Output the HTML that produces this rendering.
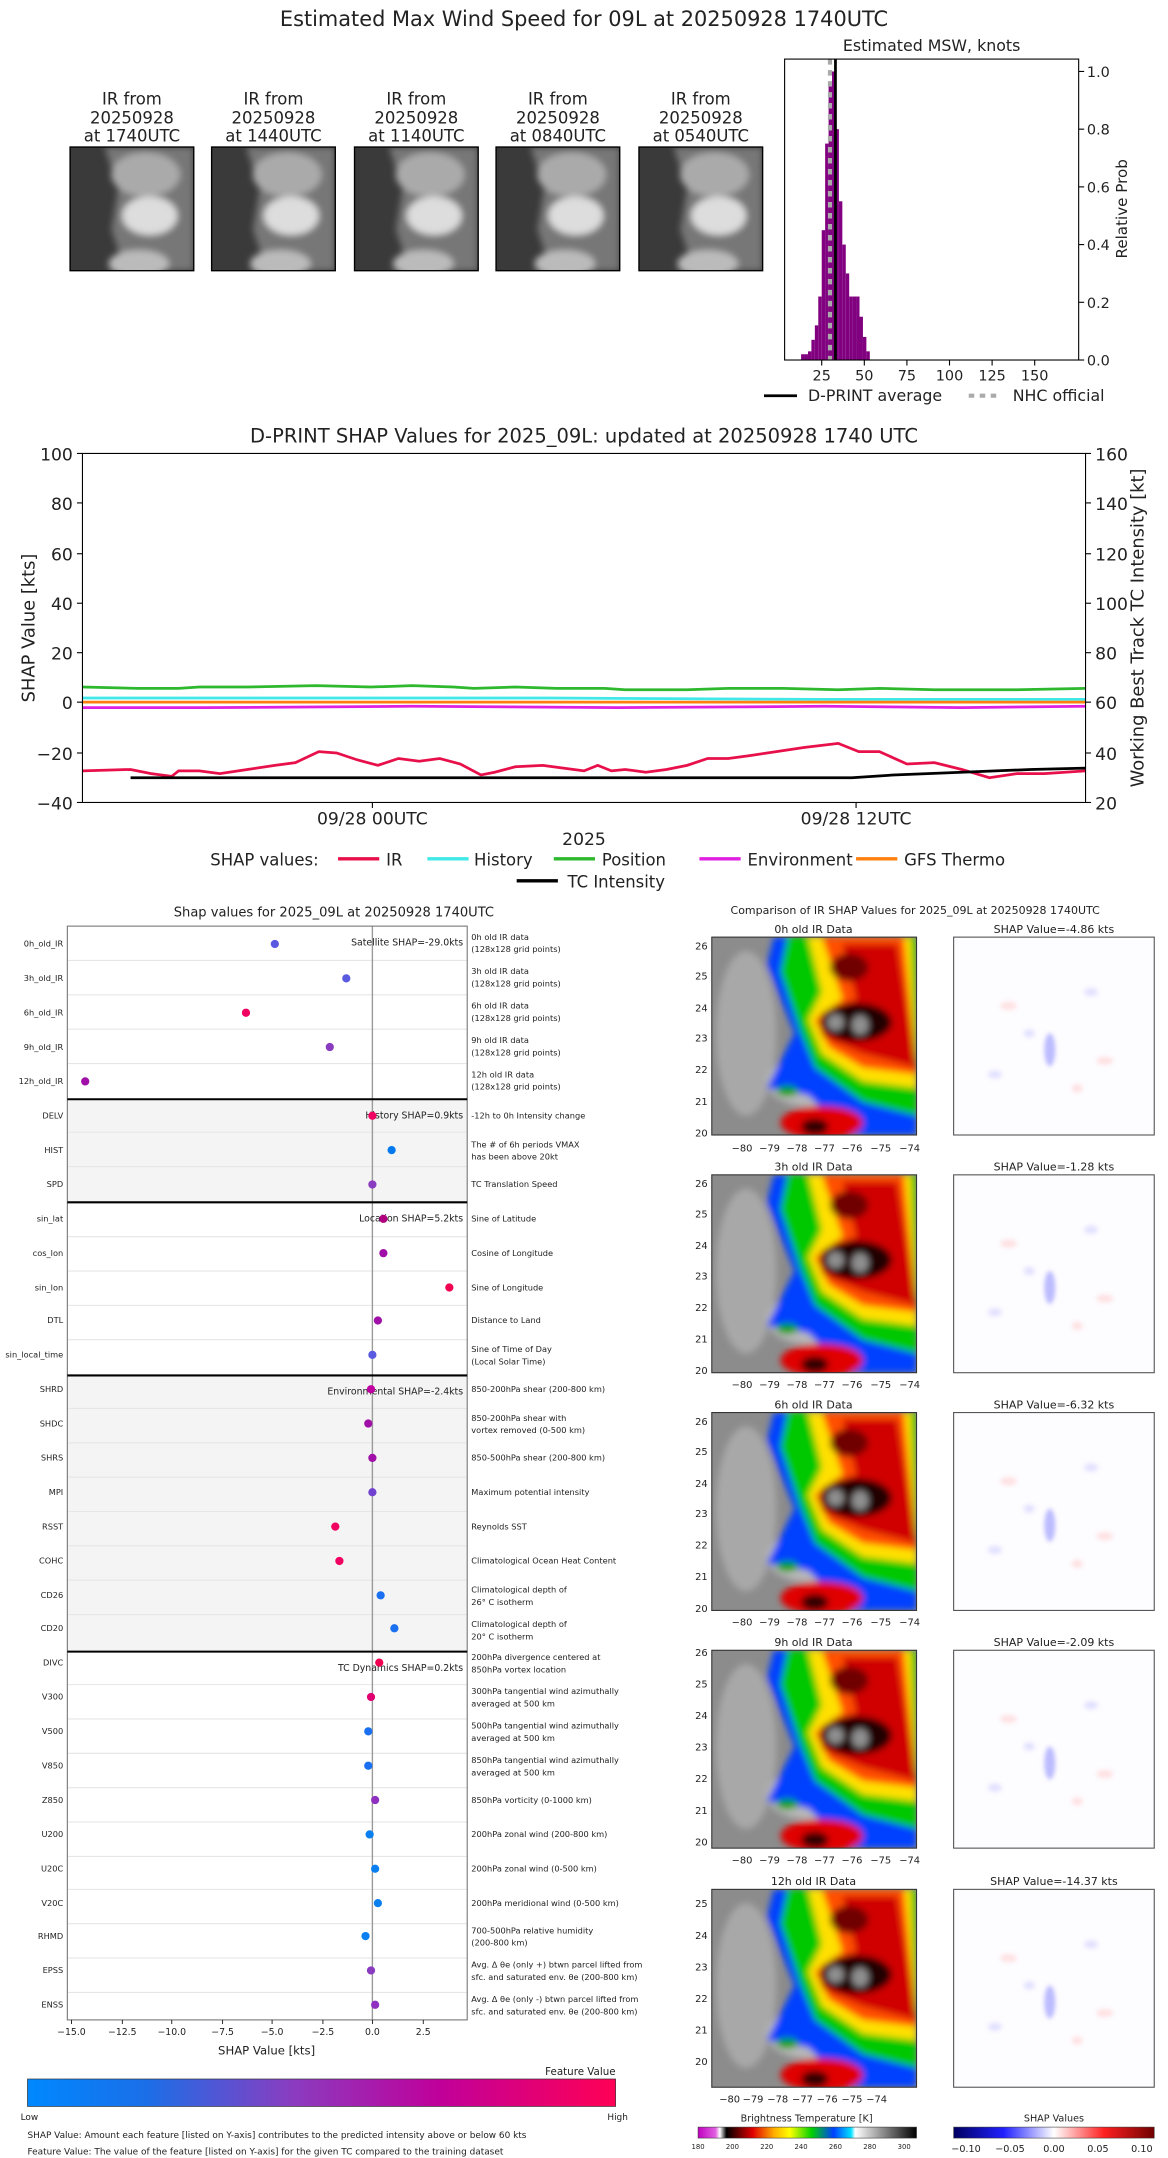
<!DOCTYPE html>
<html><head><meta charset="utf-8"><style>
html,body{margin:0;padding:0;background:#fff}
svg{display:block}
text{font-family:"DejaVu Sans","Liberation Sans",sans-serif;fill:#222}
</style></head><body>
<svg width="1168" height="2158" viewBox="0 0 850 1570.5" xmlns="http://www.w3.org/2000/svg">
<defs>
<filter id="bl" x="-20%" y="-20%" width="140%" height="140%"><feGaussianBlur stdDeviation="2.5"/></filter>
<filter id="bl2"><feGaussianBlur stdDeviation="1.5"/></filter>
<linearGradient id="fv" x1="0" x2="1"><stop offset="0" stop-color="#0088ff"/><stop offset="0.2" stop-color="#1a6fe8"/><stop offset="0.45" stop-color="#8a3cc0"/><stop offset="0.7" stop-color="#c0009a"/><stop offset="1" stop-color="#ff0055"/></linearGradient>
<linearGradient id="bt" x1="0" x2="1"><stop offset="0" stop-color="#c000c0"/><stop offset="0.08" stop-color="#e060e0"/><stop offset="0.1" stop-color="#fff"/><stop offset="0.13" stop-color="#000"/><stop offset="0.25" stop-color="#e00000"/><stop offset="0.35" stop-color="#ffb000"/><stop offset="0.42" stop-color="#ffff00"/><stop offset="0.52" stop-color="#00d000"/><stop offset="0.62" stop-color="#0040ff"/><stop offset="0.7" stop-color="#00e0ff"/><stop offset="0.72" stop-color="#fff"/><stop offset="1" stop-color="#000"/></linearGradient>
<linearGradient id="sv" x1="0" x2="1"><stop offset="0" stop-color="#000060"/><stop offset="0.25" stop-color="#2020ff"/><stop offset="0.5" stop-color="#fff"/><stop offset="0.75" stop-color="#ff2020"/><stop offset="1" stop-color="#700000"/></linearGradient>
<clipPath id="irc"><rect x="0" y="0" width="149" height="144"/></clipPath>
<clipPath id="thc"><rect x="0" y="0" width="90" height="90"/></clipPath>
<g id="ir">
 <g clip-path="url(#irc)">
 <rect width="149" height="144" fill="#8c8c8c"/>
 <g filter="url(#bl)">
  <ellipse cx="25" cy="70" rx="22" ry="60" fill="#a8a8a8"/>
  <ellipse cx="70" cy="105" rx="30" ry="18" fill="#b8b8b8"/>
  <path d="M45,0 L149,0 L149,144 L100,144 L70,115 L40,110 L60,70 L40,20 Z" fill="#0040ff"/>
  <path d="M55,0 L149,0 L149,130 L110,120 L75,95 L65,70 L50,25 Z" fill="#00c800"/>
  <path d="M70,0 L145,0 L149,110 L110,105 L80,85 L70,60 L80,40 Z" fill="#ffe000"/>
  <path d="M80,0 L140,0 L149,100 L110,95 L85,80 L75,60 L95,45 Z" fill="#ff5000"/>
  <path d="M95,5 L135,5 L149,95 L110,85 L80,72 L80,55 L105,45 Z" fill="#d00000"/>
  <ellipse cx="105" cy="62" rx="26" ry="14" fill="#200000"/>
  <ellipse cx="100" cy="22" rx="14" ry="10" fill="#700000"/>
  <ellipse cx="90" cy="62" rx="6" ry="6" fill="#909090"/>
  <ellipse cx="108" cy="64" rx="6" ry="7" fill="#909090"/>
  <ellipse cx="80" cy="135" rx="30" ry="12" fill="#e00000"/>
  <ellipse cx="75" cy="138" rx="10" ry="6" fill="#300000"/>
  <ellipse cx="55" cy="112" rx="8" ry="4" fill="#00a000"/>
 </g>
 </g>
 <rect width="149" height="144" fill="none" stroke="#333" stroke-width="0.8"/>
</g>
<g id="sh">
 <rect width="146" height="144" fill="#fdfcff" stroke="#555" stroke-width="0.8"/>
 <g filter="url(#bl2)" opacity="0.6">
  <ellipse cx="70" cy="82" rx="4" ry="12" fill="#9090ff"/>
  <ellipse cx="40" cy="50" rx="6" ry="3" fill="#ffd0d0"/>
  <ellipse cx="110" cy="90" rx="6" ry="3" fill="#ffd0d0"/>
  <ellipse cx="30" cy="100" rx="5" ry="3" fill="#d0d0ff"/>
  <ellipse cx="100" cy="40" rx="5" ry="3" fill="#d0d0ff"/>
  <ellipse cx="55" cy="70" rx="4" ry="3" fill="#d0d0ff"/>
  <ellipse cx="90" cy="110" rx="4" ry="3" fill="#ffd0d0"/>
 </g>
</g>
<g id="th">
 <g clip-path="url(#thc)">
 <rect width="90" height="90" fill="#3a3a3a"/>
 <g filter="url(#bl)">
  <path d="M25,0 L90,0 L90,90 L40,90 L30,60 L35,30 Z" fill="#777"/>
  <ellipse cx="55" cy="20" rx="25" ry="16" fill="#aaa"/>
  <ellipse cx="58" cy="50" rx="20" ry="14" fill="#ddd"/>
  <ellipse cx="50" cy="85" rx="22" ry="10" fill="#bbb"/>
 </g>
 </g>
 <rect width="90" height="90" fill="none" stroke="#000" stroke-width="1"/>
</g>
</defs>

<text x="425" y="19" font-size="15.2" text-anchor="middle">Estimated Max Wind Speed for 09L at 20250928 1740UTC</text>

<g font-size="12" text-anchor="middle">
<text x="96" y="76">IR from</text><text x="96" y="90">20250928</text><text x="96" y="103">at 1740UTC</text>
<text x="199" y="76">IR from</text><text x="199" y="90">20250928</text><text x="199" y="103">at 1440UTC</text>
<text x="303" y="76">IR from</text><text x="303" y="90">20250928</text><text x="303" y="103">at 1140UTC</text>
<text x="406" y="76">IR from</text><text x="406" y="90">20250928</text><text x="406" y="103">at 0840UTC</text>
<text x="510" y="76">IR from</text><text x="510" y="90">20250928</text><text x="510" y="103">at 0540UTC</text>
</g>
<use href="#th" x="51" y="107"/><use href="#th" x="154" y="107"/><use href="#th" x="258" y="107"/><use href="#th" x="361" y="107"/><use href="#th" x="465" y="107"/>

<text x="678" y="37" font-size="11.5" text-anchor="middle">Estimated MSW, knots</text>
<g fill="#800080">
<rect x="583" y="257.8" width="2.5" height="4.2"/><rect x="585.5" y="257.8" width="2.5" height="4.2"/>
<rect x="588" y="255.7" width="2.5" height="6.3"/><rect x="590.5" y="247.3" width="2.5" height="14.7"/>
<rect x="593" y="236.8" width="2.5" height="25.2"/><rect x="595.5" y="215.8" width="2.5" height="46.2"/>
<rect x="598" y="167.5" width="2.5" height="94.5"/><rect x="600.5" y="104.5" width="2.5" height="157.5"/>
<rect x="603" y="62.5" width="2.5" height="199.5"/><rect x="605.5" y="52" width="2.5" height="210"/>
<rect x="608" y="94" width="2.5" height="168"/><rect x="610.5" y="146.5" width="2.5" height="115.5"/>
<rect x="613" y="178" width="2.5" height="84"/><rect x="615.5" y="199" width="2.5" height="63"/>
<rect x="618" y="215.8" width="2.5" height="46.2"/><rect x="620.5" y="215.8" width="2.5" height="46.2"/>
<rect x="623" y="215.8" width="2.5" height="46.2"/><rect x="625.5" y="230.5" width="2.5" height="31.5"/>
<rect x="628" y="245.2" width="2.5" height="16.8"/><rect x="630.5" y="255.7" width="2.5" height="6.3"/>
</g>
<line x1="608" y1="43" x2="608" y2="262" stroke="#000" stroke-width="2"/>
<line x1="604" y1="43" x2="604" y2="262" stroke="#aaa" stroke-width="3" stroke-dasharray="4,4"/>
<rect x="571" y="43" width="214" height="219" fill="none" stroke="#000" stroke-width="0.8"/>
<g stroke="#000" stroke-width="0.8">
<line x1="598" y1="262" x2="598" y2="266"/><line x1="629" y1="262" x2="629" y2="266"/><line x1="660" y1="262" x2="660" y2="266"/><line x1="691" y1="262" x2="691" y2="266"/><line x1="722" y1="262" x2="722" y2="266"/><line x1="753" y1="262" x2="753" y2="266"/>
<line x1="785" y1="262" x2="789" y2="262"/><line x1="785" y1="220" x2="789" y2="220"/><line x1="785" y1="178" x2="789" y2="178"/><line x1="785" y1="136" x2="789" y2="136"/><line x1="785" y1="94" x2="789" y2="94"/><line x1="785" y1="52" x2="789" y2="52"/>
</g>
<g font-size="10.5" text-anchor="middle"><text x="598" y="277">25</text><text x="629" y="277">50</text><text x="660" y="277">75</text><text x="691" y="277">100</text><text x="722" y="277">125</text><text x="753" y="277">150</text></g>
<g font-size="10.5"><text x="791" y="266">0.0</text><text x="791" y="224">0.2</text><text x="791" y="182">0.4</text><text x="791" y="140">0.6</text><text x="791" y="98">0.8</text><text x="791" y="56">1.0</text></g>
<text transform="translate(820,152) rotate(-90)" font-size="11" text-anchor="middle">Relative Prob</text>
<line x1="556" y1="288" x2="580" y2="288" stroke="#000" stroke-width="2"/>
<text x="588" y="292" font-size="11.5">D-PRINT average</text>
<line x1="705" y1="288" x2="729" y2="288" stroke="#aaa" stroke-width="3" stroke-dasharray="4,4"/>
<text x="737" y="292" font-size="11.5">NHC official</text>

<text x="425" y="322" font-size="14.2" text-anchor="middle">D-PRINT SHAP Values for 2025_09L: updated at 20250928 1740 UTC</text>
<g fill="none" stroke-width="2">
<polyline stroke="#2db82d" points="60,500 100,501 130,501 145,500 180,500 230,499 270,500 300,499 330,500 345,501 375,500 405,501 440,501 455,502 500,502 530,501 570,501 610,502 640,501 680,502 740,502 790,501"/>
<polyline stroke="#40e8e8" points="60,508 200,508 400,508 600,509 790,509"/>
<polyline stroke="#ff7f0e" points="60,511 300,511 500,511 790,511"/>
<polyline stroke="#e020e0" points="60,515 150,515 300,514 450,515 600,514 700,515 790,514"/>
<polyline stroke="#e8104a" points="60,561 95,560 110,563 125,565 130,561 145,561 160,563 180,560 200,557 215,555 232,547 245,548 260,553 275,557 290,552 305,554 320,552 335,556 350,564 360,562 375,558 395,557 410,559 425,561 435,557 445,561 455,560 470,562 485,560 500,557 515,552 530,552 545,550 565,547 585,544 610,541 625,547 640,547 660,556 680,555 700,560 720,566 740,563 760,563 790,561"/>
<polyline stroke="#000" points="95,566 620,566 650,564 700,562 750,560 790,559"/>
</g>
<rect x="60" y="330" width="730" height="254" fill="none" stroke="#000" stroke-width="0.8"/>
<g stroke="#000" stroke-width="0.8">
<line x1="56" y1="330" x2="60" y2="330"/><line x1="56" y1="366" x2="60" y2="366"/><line x1="56" y1="403" x2="60" y2="403"/><line x1="56" y1="439" x2="60" y2="439"/><line x1="56" y1="475" x2="60" y2="475"/><line x1="56" y1="511" x2="60" y2="511"/><line x1="56" y1="548" x2="60" y2="548"/><line x1="56" y1="584" x2="60" y2="584"/>
<line x1="790" y1="330" x2="794" y2="330"/><line x1="790" y1="366" x2="794" y2="366"/><line x1="790" y1="403" x2="794" y2="403"/><line x1="790" y1="439" x2="794" y2="439"/><line x1="790" y1="475" x2="794" y2="475"/><line x1="790" y1="511" x2="794" y2="511"/><line x1="790" y1="548" x2="794" y2="548"/><line x1="790" y1="584" x2="794" y2="584"/>
<line x1="271" y1="584" x2="271" y2="588"/><line x1="623" y1="584" x2="623" y2="588"/>
</g>
<g font-size="12.5" text-anchor="end"><text x="53" y="335">100</text><text x="53" y="371">80</text><text x="53" y="408">60</text><text x="53" y="444">40</text><text x="53" y="480">20</text><text x="53" y="516">0</text><text x="53" y="553">−20</text><text x="53" y="589">−40</text></g>
<g font-size="12.5"><text x="797" y="335">160</text><text x="797" y="371">140</text><text x="797" y="408">120</text><text x="797" y="444">100</text><text x="797" y="480">80</text><text x="797" y="516">60</text><text x="797" y="553">40</text><text x="797" y="589">20</text></g>
<g font-size="12.5" text-anchor="middle"><text x="271" y="600">09/28 00UTC</text><text x="623" y="600">09/28 12UTC</text><text x="425" y="615">2025</text></g>
<text transform="translate(25,457) rotate(-90)" font-size="13" text-anchor="middle">SHAP Value [kts]</text>
<text transform="translate(832,457) rotate(-90)" font-size="13" text-anchor="middle">Working Best Track TC Intensity [kt]</text>
<g font-size="12">
<text x="153" y="630">SHAP values:</text>
<line x1="246" y1="625" x2="276" y2="625" stroke="#e8104a" stroke-width="2.5"/><text x="281" y="630">IR</text>
<line x1="311" y1="625" x2="341" y2="625" stroke="#40e8e8" stroke-width="2.5"/><text x="345" y="630">History</text>
<line x1="403" y1="625" x2="433" y2="625" stroke="#2db82d" stroke-width="2.5"/><text x="438" y="630">Position</text>
<line x1="509" y1="625" x2="539" y2="625" stroke="#e020e0" stroke-width="2.5"/><text x="544" y="630">Environment</text>
<line x1="623" y1="625" x2="653" y2="625" stroke="#ff7f0e" stroke-width="2.5"/><text x="658" y="630">GFS Thermo</text>
<line x1="376" y1="641" x2="406" y2="641" stroke="#000" stroke-width="2.5"/><text x="413" y="646">TC Intensity</text>
</g>

<text x="243" y="667" font-size="9.5" text-anchor="middle">Shap values for 2025_09L at 20250928 1740UTC</text>
<rect x="49" y="800" width="291" height="75" fill="#f4f4f4"/>
<rect x="49" y="1001" width="291" height="201" fill="#f4f4f4"/>
<g stroke="#e6e6e6" stroke-width="0.8">
<line x1="49" x2="340" y1="699" y2="699"/><line x1="49" x2="340" y1="724" y2="724"/><line x1="49" x2="340" y1="749" y2="749"/><line x1="49" x2="340" y1="774" y2="774"/>
<line x1="49" x2="340" y1="824" y2="824"/><line x1="49" x2="340" y1="849" y2="849"/>
<line x1="49" x2="340" y1="900" y2="900"/><line x1="49" x2="340" y1="925" y2="925"/><line x1="49" x2="340" y1="950" y2="950"/><line x1="49" x2="340" y1="975" y2="975"/>
<line x1="49" x2="340" y1="1025" y2="1025"/><line x1="49" x2="340" y1="1050" y2="1050"/><line x1="49" x2="340" y1="1075" y2="1075"/><line x1="49" x2="340" y1="1100" y2="1100"/><line x1="49" x2="340" y1="1125" y2="1125"/><line x1="49" x2="340" y1="1150" y2="1150"/><line x1="49" x2="340" y1="1175" y2="1175"/>
<line x1="49" x2="340" y1="1226" y2="1226"/><line x1="49" x2="340" y1="1251" y2="1251"/><line x1="49" x2="340" y1="1276" y2="1276"/><line x1="49" x2="340" y1="1301" y2="1301"/><line x1="49" x2="340" y1="1326" y2="1326"/><line x1="49" x2="340" y1="1351" y2="1351"/><line x1="49" x2="340" y1="1375" y2="1375"/><line x1="49" x2="340" y1="1400" y2="1400"/><line x1="49" x2="340" y1="1425" y2="1425"/><line x1="49" x2="340" y1="1450" y2="1450"/>
</g>
<line x1="271" y1="674" x2="271" y2="1470" stroke="#999" stroke-width="1"/>
<rect x="49" y="674" width="291" height="796" fill="none" stroke="#777" stroke-width="0.8"/>
<g stroke="#000" stroke-width="1.5"><line x1="49" x2="340" y1="800" y2="800"/><line x1="49" x2="340" y1="875" y2="875"/><line x1="49" x2="340" y1="1001" y2="1001"/><line x1="49" x2="340" y1="1202" y2="1202"/></g>
<g font-size="6.8" text-anchor="end">
<text x="337" y="688">Satellite SHAP=-29.0kts</text><text x="337" y="814">History SHAP=0.9kts</text><text x="337" y="889">Location SHAP=5.2kts</text><text x="337" y="1015">Environmental SHAP=-2.4kts</text><text x="337" y="1216">TC Dynamics SHAP=0.2kts</text>
</g>
<g font-size="6" text-anchor="end">
<text x="46" y="689">0h_old_IR</text><text x="46" y="714">3h_old_IR</text><text x="46" y="739">6h_old_IR</text><text x="46" y="764">9h_old_IR</text><text x="46" y="789">12h_old_IR</text>
<text x="46" y="814">DELV</text><text x="46" y="839">HIST</text><text x="46" y="864">SPD</text>
<text x="46" y="889">sin_lat</text><text x="46" y="914">cos_lon</text><text x="46" y="939">sin_lon</text><text x="46" y="963">DTL</text><text x="46" y="988">sin_local_time</text>
<text x="46" y="1013">SHRD</text><text x="46" y="1038">SHDC</text><text x="46" y="1063">SHRS</text><text x="46" y="1088">MPI</text><text x="46" y="1113">RSST</text><text x="46" y="1138">COHC</text><text x="46" y="1163">CD26</text><text x="46" y="1187">CD20</text>
<text x="46" y="1212">DIVC</text><text x="46" y="1237">V300</text><text x="46" y="1262">V500</text><text x="46" y="1287">V850</text><text x="46" y="1312">Z850</text><text x="46" y="1337">U200</text><text x="46" y="1362">U20C</text><text x="46" y="1387">V20C</text><text x="46" y="1411">RHMD</text><text x="46" y="1436">EPSS</text><text x="46" y="1461">ENSS</text>
</g>
<g font-size="6">
<text x="343" y="684">0h old IR data</text><text x="343" y="693">(128x128 grid points)</text>
<text x="343" y="709">3h old IR data</text><text x="343" y="718">(128x128 grid points)</text>
<text x="343" y="734">6h old IR data</text><text x="343" y="743">(128x128 grid points)</text>
<text x="343" y="759">9h old IR data</text><text x="343" y="768">(128x128 grid points)</text>
<text x="343" y="784">12h old IR data</text><text x="343" y="793">(128x128 grid points)</text>
<text x="343" y="814">-12h to 0h Intensity change</text>
<text x="343" y="835">The # of 6h periods VMAX</text><text x="343" y="844">has been above 20kt</text>
<text x="343" y="864">TC Translation Speed</text>
<text x="343" y="889">Sine of Latitude</text><text x="343" y="914">Cosine of Longitude</text><text x="343" y="939">Sine of Longitude</text><text x="343" y="963">Distance to Land</text>
<text x="343" y="984">Sine of Time of Day</text><text x="343" y="993">(Local Solar Time)</text>
<text x="343" y="1013">850-200hPa shear (200-800 km)</text>
<text x="343" y="1034">850-200hPa shear with</text><text x="343" y="1043">vortex removed (0-500 km)</text>
<text x="343" y="1063">850-500hPa shear (200-800 km)</text><text x="343" y="1088">Maximum potential intensity</text><text x="343" y="1113">Reynolds SST</text><text x="343" y="1138">Climatological Ocean Heat Content</text>
<text x="343" y="1159">Climatological depth of</text><text x="343" y="1168">26° C isotherm</text>
<text x="343" y="1184">Climatological depth of</text><text x="343" y="1193">20° C isotherm</text>
<text x="343" y="1208">200hPa divergence centered at</text><text x="343" y="1217">850hPa vortex location</text>
<text x="343" y="1233">300hPa tangential wind azimuthally</text><text x="343" y="1242">averaged at 500 km</text>
<text x="343" y="1258">500hPa tangential wind azimuthally</text><text x="343" y="1267">averaged at 500 km</text>
<text x="343" y="1283">850hPa tangential wind azimuthally</text><text x="343" y="1292">averaged at 500 km</text>
<text x="343" y="1312">850hPa vorticity (0-1000 km)</text><text x="343" y="1337">200hPa zonal wind (200-800 km)</text><text x="343" y="1362">200hPa zonal wind (0-500 km)</text><text x="343" y="1387">200hPa meridional wind (0-500 km)</text>
<text x="343" y="1407">700-500hPa relative humidity</text><text x="343" y="1416">(200-800 km)</text>
<text x="343" y="1432">Avg. Δ θe (only +) btwn parcel lifted from</text><text x="343" y="1441">sfc. and saturated env. θe (200-800 km)</text>
<text x="343" y="1457">Avg. Δ θe (only -) btwn parcel lifted from</text><text x="343" y="1466">sfc. and saturated env. θe (200-800 km)</text>
</g>
<g>
<circle cx="200" cy="687" r="3" fill="#5a5ae0"/><circle cx="252" cy="712" r="3" fill="#5a5ae0"/><circle cx="179" cy="737" r="3" fill="#f00060"/><circle cx="240" cy="762" r="3" fill="#8a3cc0"/><circle cx="62" cy="787" r="3" fill="#a010a8"/>
<circle cx="271" cy="812" r="3" fill="#f00060"/><circle cx="285" cy="837" r="3" fill="#0078f0"/><circle cx="271" cy="862" r="3" fill="#8a3cc0"/>
<circle cx="279" cy="887" r="3" fill="#b00080"/><circle cx="279" cy="912" r="3" fill="#a010a8"/><circle cx="327" cy="937" r="3" fill="#f00050"/><circle cx="275" cy="961" r="3" fill="#a010a8"/><circle cx="271" cy="986" r="3" fill="#5a5ae0"/>
<circle cx="270" cy="1011" r="3" fill="#c000a0"/><circle cx="268" cy="1036" r="3" fill="#a010a8"/><circle cx="271" cy="1061" r="3" fill="#a010a8"/><circle cx="271" cy="1086" r="3" fill="#7040d0"/><circle cx="244" cy="1111" r="3" fill="#f00060"/><circle cx="247" cy="1136" r="3" fill="#f00060"/><circle cx="277" cy="1161" r="3" fill="#1a70f0"/><circle cx="287" cy="1185" r="3" fill="#1a70f0"/>
<circle cx="276" cy="1210" r="3" fill="#f00050"/><circle cx="270" cy="1235" r="3" fill="#e00070"/><circle cx="268" cy="1260" r="3" fill="#1a70f0"/><circle cx="268" cy="1285" r="3" fill="#1a70f0"/><circle cx="273" cy="1310" r="3" fill="#9030c0"/><circle cx="269" cy="1335" r="3" fill="#0a80f0"/><circle cx="273" cy="1360" r="3" fill="#0a80f0"/><circle cx="275" cy="1385" r="3" fill="#0a80f0"/><circle cx="266" cy="1409" r="3" fill="#0a80f0"/><circle cx="270" cy="1434" r="3" fill="#8a3cc0"/><circle cx="273" cy="1459" r="3" fill="#9030c0"/>
</g>
<g stroke="#000" stroke-width="0.6"><line x1="52" x2="52" y1="1470" y2="1473"/><line x1="89" x2="89" y1="1470" y2="1473"/><line x1="125" x2="125" y1="1470" y2="1473"/><line x1="162" x2="162" y1="1470" y2="1473"/><line x1="198" x2="198" y1="1470" y2="1473"/><line x1="235" x2="235" y1="1470" y2="1473"/><line x1="271" x2="271" y1="1470" y2="1473"/><line x1="308" x2="308" y1="1470" y2="1473"/></g>
<g font-size="6.8" text-anchor="middle"><text x="52" y="1481">−15.0</text><text x="89" y="1481">−12.5</text><text x="125" y="1481">−10.0</text><text x="162" y="1481">−7.5</text><text x="198" y="1481">−5.0</text><text x="235" y="1481">−2.5</text><text x="271" y="1481">0.0</text><text x="308" y="1481">2.5</text></g>
<text x="194" y="1495" font-size="8.5" text-anchor="middle">SHAP Value [kts]</text>
<text x="448" y="1510" font-size="7.5" text-anchor="end">Feature Value</text>
<rect x="20" y="1513" width="428" height="20" fill="url(#fv)" stroke="#333" stroke-width="0.5"/>
<text x="15" y="1543" font-size="6.5">Low</text><text x="442" y="1543" font-size="6.5">High</text>
<text x="20" y="1556" font-size="6.5">SHAP Value: Amount each feature [listed on Y-axis] contributes to the predicted intensity above or below 60 kts</text>
<text x="20" y="1568" font-size="6.5">Feature Value: The value of the feature [listed on Y-axis] for the given TC compared to the training dataset</text>

<text x="666" y="665" font-size="8" text-anchor="middle">Comparison of IR SHAP Values for 2025_09L at 20250928 1740UTC</text>
<g font-size="8" text-anchor="middle">
<text x="592" y="679">0h old IR Data</text><text x="767" y="679">SHAP Value=-4.86 kts</text>
<text x="592" y="852">3h old IR Data</text><text x="767" y="852">SHAP Value=-1.28 kts</text>
<text x="592" y="1025">6h old IR Data</text><text x="767" y="1025">SHAP Value=-6.32 kts</text>
<text x="592" y="1198">9h old IR Data</text><text x="767" y="1198">SHAP Value=-2.09 kts</text>
<text x="592" y="1372">12h old IR Data</text><text x="767" y="1372">SHAP Value=-14.37 kts</text>
</g>
<use href="#ir" x="518" y="682"/><use href="#sh" x="694" y="682"/>
<use href="#ir" x="518" y="855"/><use href="#sh" x="694" y="855"/>
<use href="#ir" x="518" y="1028"/><use href="#sh" x="694" y="1028"/>
<use href="#ir" x="518" y="1201"/><use href="#sh" x="694" y="1201"/>
<use href="#ir" x="518" y="1375"/><use href="#sh" x="694" y="1375"/>
<g font-size="7.2" text-anchor="end">
<text x="515" y="691">26</text><text x="515" y="713">25</text><text x="515" y="736">24</text><text x="515" y="758">23</text><text x="515" y="781">22</text><text x="515" y="804">21</text><text x="515" y="827">20</text>
<text x="515" y="864">26</text><text x="515" y="886">25</text><text x="515" y="909">24</text><text x="515" y="931">23</text><text x="515" y="954">22</text><text x="515" y="977">21</text><text x="515" y="1000">20</text>
<text x="515" y="1037">26</text><text x="515" y="1059">25</text><text x="515" y="1082">24</text><text x="515" y="1104">23</text><text x="515" y="1127">22</text><text x="515" y="1150">21</text><text x="515" y="1173">20</text>
<text x="515" y="1205">26</text><text x="515" y="1228">25</text><text x="515" y="1251">24</text><text x="515" y="1274">23</text><text x="515" y="1297">22</text><text x="515" y="1320">21</text><text x="515" y="1343">20</text>
<text x="515" y="1388">25</text><text x="515" y="1411">24</text><text x="515" y="1434">23</text><text x="515" y="1457">22</text><text x="515" y="1480">21</text><text x="515" y="1503">20</text>
</g>
<g font-size="7.2" text-anchor="middle">
<text x="540" y="838">−80</text><text x="560" y="838">−79</text><text x="580" y="838">−78</text><text x="600" y="838">−77</text><text x="620" y="838">−76</text><text x="641" y="838">−75</text><text x="662" y="838">−74</text>
<text x="540" y="1010">−80</text><text x="560" y="1010">−79</text><text x="580" y="1010">−78</text><text x="600" y="1010">−77</text><text x="620" y="1010">−76</text><text x="641" y="1010">−75</text><text x="662" y="1010">−74</text>
<text x="540" y="1183">−80</text><text x="560" y="1183">−79</text><text x="580" y="1183">−78</text><text x="600" y="1183">−77</text><text x="620" y="1183">−76</text><text x="641" y="1183">−75</text><text x="662" y="1183">−74</text>
<text x="540" y="1356">−80</text><text x="560" y="1356">−79</text><text x="580" y="1356">−78</text><text x="600" y="1356">−77</text><text x="620" y="1356">−76</text><text x="641" y="1356">−75</text><text x="662" y="1356">−74</text>
<text x="531" y="1530">−80</text><text x="548" y="1530">−79</text><text x="566" y="1530">−78</text><text x="584" y="1530">−77</text><text x="602" y="1530">−76</text><text x="620" y="1530">−75</text><text x="638" y="1530">−74</text>
</g>
<text x="587" y="1544" font-size="7" text-anchor="middle">Brightness Temperature [K]</text>
<rect x="508" y="1548" width="159" height="8" fill="url(#bt)" stroke="#333" stroke-width="0.4"/>
<g font-size="5" text-anchor="middle"><text x="508" y="1564">180</text><text x="533" y="1564">200</text><text x="558" y="1564">220</text><text x="583" y="1564">240</text><text x="608" y="1564">260</text><text x="633" y="1564">280</text><text x="658" y="1564">300</text></g>
<text x="767" y="1544" font-size="7" text-anchor="middle">SHAP Values</text>
<rect x="694" y="1548" width="146" height="8" fill="url(#sv)" stroke="#333" stroke-width="0.4"/>
<g font-size="7" text-anchor="middle"><text x="703" y="1566">−0.10</text><text x="735" y="1566">−0.05</text><text x="767" y="1566">0.00</text><text x="799" y="1566">0.05</text><text x="831" y="1566">0.10</text></g>
</svg>
</body></html>
